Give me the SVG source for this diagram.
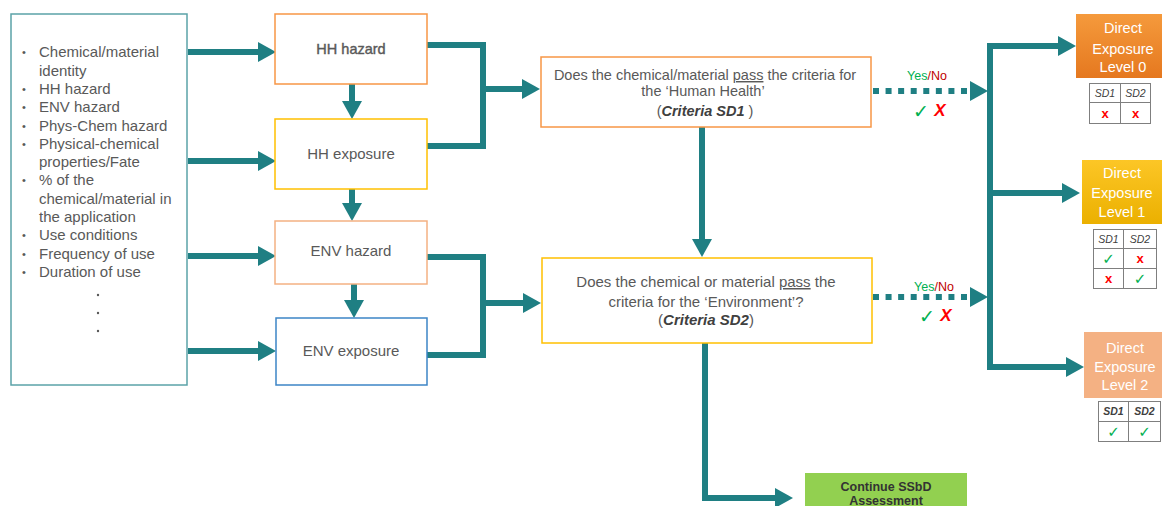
<svg xmlns="http://www.w3.org/2000/svg" width="1162" height="506" viewBox="0 0 1162 506">
<style>
  text { font-family: "Liberation Sans", Arial, sans-serif; fill: #595959; }
  .box { fill: #ffffff; stroke-width: 1.5; }
  .lbl { font-size: 15px; text-anchor: middle; }
  .lst { font-size: 15px; }
  .bul { font-size: 11px; }
  .q { font-size: 14.5px; text-anchor: middle; }
  .q2 { font-size: 15px; text-anchor: middle; }
  .bi { font-weight: bold; font-style: italic; fill: #404040; }
  .conn { fill: none; stroke: #1f7f83; stroke-width: 6; }
  .dot { fill: none; stroke: #1f7f83; stroke-width: 6; stroke-dasharray: 6 6.57; }
  .lvl { font-size: 14.5px; text-anchor: middle; fill: #ffffff; }
  .tbl { fill: #ffffff; stroke: #7f7f7f; stroke-width: 1; }
  .th { font-size: 10.5px; font-style: italic; text-anchor: middle; fill: #404040; }
  .ok { font-family: "DejaVu Sans", sans-serif; fill: #00b050; text-anchor: middle; font-weight: bold; }
  .no { font-family: "Liberation Sans", Arial, sans-serif; fill: #ff0000; text-anchor: middle; font-weight: bold; font-style: italic; }
  .yes { fill: #00b050; }
  .non { fill: #c00000; }
</style>
<defs>
  <marker id="ah" viewBox="0 0 18 20" refX="8" refY="10" markerWidth="18" markerHeight="20" markerUnits="userSpaceOnUse" orient="auto">
    <path d="M0,0 L18,10 L0,20 z" fill="#1f7f83"/>
  </marker>
  <linearGradient id="g0" x1="0" y1="0" x2="0" y2="1">
    <stop offset="0" stop-color="#f59a3c"/>
    <stop offset="1" stop-color="#e5781f"/>
  </linearGradient>
  <linearGradient id="g1" x1="0" y1="0" x2="0" y2="1">
    <stop offset="0" stop-color="#fcc626"/>
    <stop offset="1" stop-color="#ebb000"/>
  </linearGradient>
</defs>

<g id="connectors">
  <path class="conn" d="M188,52 H266" marker-end="url(#ah)"/>
  <path class="conn" d="M188,161 H266" marker-end="url(#ah)"/>
  <path class="conn" d="M188,256 H266" marker-end="url(#ah)"/>
  <path class="conn" d="M188,351 H266" marker-end="url(#ah)"/>
  <path class="conn" d="M352,84 V109" marker-end="url(#ah)"/>
  <path class="conn" d="M352,189 V211" marker-end="url(#ah)"/>
  <path class="conn" d="M354,284 V308" marker-end="url(#ah)"/>
  <path class="conn" d="M427,45 H483 V146 H427"/>
  <path class="conn" d="M486,89 H530" marker-end="url(#ah)"/>
  <path class="conn" d="M427,257 H483 V355 H427"/>
  <path class="conn" d="M486,303 H531" marker-end="url(#ah)"/>
  <path class="conn" d="M702,127 V247" marker-end="url(#ah)"/>
  <path class="conn" d="M705,343 V498 H783" marker-end="url(#ah)"/>
  <path class="dot" d="M873,91 H967"/>
  <path class="conn" d="M970,91 H978" marker-end="url(#ah)"/>
  <path class="dot" d="M873,297 H967"/>
  <path class="conn" d="M970,297 H978" marker-end="url(#ah)"/>
  <path class="conn" style="stroke-linecap:square" d="M990,367 V46 H1066" marker-end="url(#ah)"/>
  <path class="conn" d="M990,367 H1074" marker-end="url(#ah)"/>
  <path class="conn" d="M990,193 H1070" marker-end="url(#ah)"/>
</g>

<g id="input-list">
  <rect class="box" x="11" y="14" width="176" height="371" stroke="#5ba3a8"/>
  <text class="bul" x="22" y="56">•</text><text class="lst" x="39" y="57">Chemical/material</text>
  <text class="lst" x="39" y="75.6">identity</text>
  <text class="bul" x="22" y="93">•</text><text class="lst" x="39" y="94">HH hazard</text>
  <text class="bul" x="22" y="111">•</text><text class="lst" x="39" y="112">ENV hazard</text>
  <text class="bul" x="22" y="129.5">•</text><text class="lst" x="39" y="130.5">Phys-Chem hazard</text>
  <text class="bul" x="22" y="148">•</text><text class="lst" x="39" y="149">Physical-chemical</text>
  <text class="lst" x="39" y="167">properties/Fate</text>
  <text class="bul" x="22" y="184.4">•</text><text class="lst" x="39" y="185.4">% of the</text>
  <text class="lst" x="39" y="203.7">chemical/material in</text>
  <text class="lst" x="39" y="222">the application</text>
  <text class="bul" x="22" y="239.3">•</text><text class="lst" x="39" y="240.3">Use conditions</text>
  <text class="bul" x="22" y="257.6">•</text><text class="lst" x="39" y="258.6">Frequency of use</text>
  <text class="bul" x="22" y="276">•</text><text class="lst" x="39" y="277">Duration of use</text>
  <circle cx="98" cy="295" r="1.2" fill="#595959"/>
  <circle cx="98" cy="313" r="1.2" fill="#595959"/>
  <circle cx="98" cy="331" r="1.2" fill="#595959"/>
</g>

<g id="hh-hazard">
  <rect class="box" x="275" y="14" width="152" height="70" stroke="#f79646"/>
  <text class="lbl" x="351" y="54" style="font-size:14.5px;stroke:#595959;stroke-width:0.4">HH hazard</text>
</g>
<g id="hh-exposure">
  <rect class="box" x="275" y="119" width="152" height="70" stroke="#ffc000"/>
  <text class="lbl" x="351" y="159">HH exposure</text>
</g>
<g id="env-hazard">
  <rect class="box" x="275" y="221" width="152" height="63" stroke="#f4b183"/>
  <text class="lbl" x="351" y="256">ENV hazard</text>
</g>
<g id="env-exposure">
  <rect class="box" x="276" y="318" width="151" height="67" stroke="#3d85c6"/>
  <text class="lbl" x="351" y="356">ENV exposure</text>
</g>

<g id="criteria-sd1">
  <rect class="box" x="541" y="57" width="330" height="70" stroke="#f79646"/>
  <text class="q" x="705" y="80">Does the chemical/material <tspan text-decoration="underline">pass</tspan> the criteria for</text>
  <text class="q" x="703" y="96">the ‘Human Health’</text>
  <text class="q" x="705" y="116">(<tspan class="bi">Criteria SD1</tspan> )</text>
</g>
<g id="criteria-sd2">
  <rect class="box" x="542" y="258" width="330" height="85" stroke="#ffc000"/>
  <text class="q2" x="706" y="287">Does the chemical or material <tspan text-decoration="underline">pass</tspan> the</text>
  <text class="q2" x="706" y="307">criteria for the ‘Environment’?</text>
  <text class="q2" x="706" y="325">(<tspan class="bi">Criteria SD2</tspan>)</text>
</g>

<g id="decision-labels">
  <text x="927" y="80" style="font-size:12.5px" text-anchor="middle"><tspan class="yes">Yes</tspan><tspan class="non">/No</tspan></text>
  <text class="ok" x="921" y="118" style="font-size:19px">✓</text>
  <text class="no" x="940" y="116" style="font-size:17px">X</text>
  <text x="934" y="291" style="font-size:12.5px" text-anchor="middle"><tspan class="yes">Yes</tspan><tspan class="non">/No</tspan></text>
  <text class="ok" x="927" y="323" style="font-size:19px">✓</text>
  <text class="no" x="946" y="321" style="font-size:17px">X</text>
</g>

<g id="continue-ssbd">
  <rect x="805" y="473" width="162" height="40" fill="#92d050"/>
  <text x="886" y="491" style="font-size:12.5px;font-weight:bold;fill:#333333" text-anchor="middle">Continue SSbD</text>
  <text x="886" y="505" style="font-size:12.5px;font-weight:bold;fill:#333333" text-anchor="middle">Assessment</text>
</g>

<g id="level-0">
  <rect x="1076" y="14" width="94" height="64" fill="url(#g0)"/>
  <text class="lvl" x="1123" y="33">Direct</text>
  <text class="lvl" x="1123" y="54">Exposure</text>
  <text class="lvl" x="1123" y="72">Level 0</text>
  <rect class="tbl" x="1089.5" y="83.5" width="31" height="19"/>
  <rect class="tbl" x="1120.5" y="83.5" width="30" height="19"/>
  <rect class="tbl" x="1089.5" y="102.5" width="31" height="21"/>
  <rect class="tbl" x="1120.5" y="102.5" width="30" height="21"/>
  <text class="th" x="1105" y="97">SD1</text>
  <text class="th" x="1135.5" y="97">SD2</text>
  <text class="no" x="1105" y="118" style="font-size:13px;font-style:normal">x</text>
  <text class="no" x="1135.5" y="118" style="font-size:13px;font-style:normal">x</text>
</g>

<g id="level-1">
  <rect x="1082" y="160" width="88" height="64" fill="url(#g1)"/>
  <text class="lvl" x="1122" y="178">Direct</text>
  <text class="lvl" x="1122" y="198">Exposure</text>
  <text class="lvl" x="1122" y="217">Level 1</text>
  <rect class="tbl" x="1093.5" y="229.5" width="30" height="19"/>
  <rect class="tbl" x="1123.5" y="229.5" width="33" height="19"/>
  <rect class="tbl" x="1093.5" y="248.5" width="30" height="20"/>
  <rect class="tbl" x="1123.5" y="248.5" width="33" height="20"/>
  <rect class="tbl" x="1093.5" y="268.5" width="30" height="20"/>
  <rect class="tbl" x="1123.5" y="268.5" width="33" height="20"/>
  <text class="th" x="1108.5" y="243">SD1</text>
  <text class="th" x="1140" y="243">SD2</text>
  <text class="ok" x="1108.5" y="264" style="font-size:15px">✓</text>
  <text class="no" x="1140" y="263" style="font-size:13px;font-style:normal">x</text>
  <text class="no" x="1108.5" y="283" style="font-size:13px;font-style:normal">x</text>
  <text class="ok" x="1140" y="284" style="font-size:15px">✓</text>
</g>

<g id="level-2">
  <rect x="1084" y="332" width="86" height="66" fill="#f4b183"/>
  <text class="lvl" x="1125" y="353">Direct</text>
  <text class="lvl" x="1125" y="372">Exposure</text>
  <text class="lvl" x="1125" y="390">Level 2</text>
  <rect class="tbl" x="1098.5" y="401.5" width="30" height="20"/>
  <rect class="tbl" x="1128.5" y="401.5" width="32" height="20"/>
  <rect class="tbl" x="1098.5" y="421.5" width="30" height="20"/>
  <rect class="tbl" x="1128.5" y="421.5" width="32" height="20"/>
  <text class="th" x="1113.5" y="415" style="font-weight:bold">SD1</text>
  <text class="th" x="1144.5" y="415" style="font-weight:bold">SD2</text>
  <text class="ok" x="1113.5" y="437" style="font-size:15px">✓</text>
  <text class="ok" x="1144.5" y="437" style="font-size:15px">✓</text>
</g>
</svg>
